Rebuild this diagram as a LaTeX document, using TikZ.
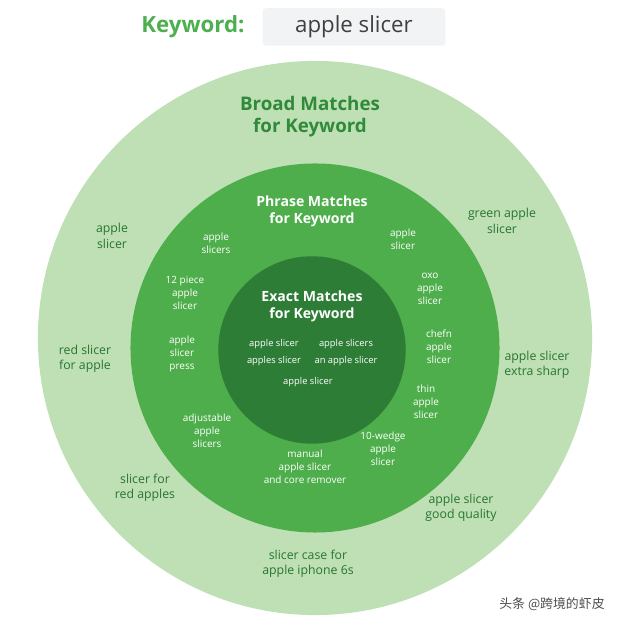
\documentclass[tikz,border=0pt]{standalone}
\usepackage{fontspec}
\setmainfont{Open Sans}
\newfontfamily\cjk{Noto Sans CJK SC}
\usepackage{tikz}
\definecolor{broadgreen}{HTML}{BEE0B4}
\definecolor{phrasegreen}{HTML}{4EAE4B}
\definecolor{exactgreen}{HTML}{2E7D36}
\definecolor{headgreen}{HTML}{2F8A3A}
\definecolor{keygreen}{HTML}{4CAF50}
\definecolor{boxgray}{HTML}{F1F3F4}

\begin{document}
\begin{tikzpicture}[
    x=0.03cm, y=-0.03cm,
    every node/.style={align=center},
    ring/.style={circle, draw=none, inner sep=0pt},
    heading/.style={font=\bfseries\fontsize{16}{19}\selectfont},
    broad/.style={font=\fontsize{10.5}{13}\selectfont, text=headgreen!85!black},
    phrase/.style={font=\fontsize{8.5}{11}\selectfont, text=white},
    exact/.style={font=\fontsize{8}{10}\selectfont, text=white}
]
    \useasboundingbox (0,0) rectangle (631,627);

    % === TITLE ===
    \node[font=\bfseries\fontsize{19}{22}\selectfont, text=keygreen] (keylabel) at (193,27) {Keyword:};
    \node[fill=boxgray, rounded corners=3pt, minimum width=156pt, minimum height=32pt,
          font=\fontsize{19}{22}\selectfont, text=black!75] (keybox) at (354,27) {apple slicer};

    % === CIRCLES ===
    \node[ring, fill=broadgreen, minimum size=473pt] (broadring) at (315,338) {};
    \node[ring, fill=phrasegreen, minimum size=315pt] (phrasering) at (315,348) {};
    \node[ring, fill=exactgreen, minimum size=160pt] (exactring) at (312,350) {};

    % Headings
    \node[heading, text=headgreen] (broadhead) at (310,117) {Broad Matches\\for Keyword};
    \node[heading, text=white, font=\bfseries\fontsize{12}{14.5}\selectfont] (phrasehead) at (312,211) {Phrase Matches\\for Keyword};
    \node[heading, text=white, font=\bfseries\fontsize{12}{14.5}\selectfont] (exacthead) at (312,306) {Exact Matches\\for Keyword};

    % === BROAD MATCHES ===
    \node[broad] (b1) at (112,236) {apple\\slicer};
    \node[broad] (b2) at (85,359) {red slicer\\for apple};
    \node[broad] (b3) at (145,488) {slicer for\\red apples};
    \node[broad] (b4) at (308,564) {slicer case for\\apple iphone 6s};
    \node[broad] (b5) at (502,221) {green apple\\slicer};
    \node[broad] (b6) at (537,365) {apple slicer\\extra sharp};
    \node[broad] (b7) at (461,508) {apple slicer\\good quality};

    % === PHRASE MATCHES ===
    \node[phrase] (p1) at (216,243) {apple\\slicers};
    \node[phrase] (p2) at (185,293) {12 piece\\apple\\slicer};
    \node[phrase] (p3) at (182,354) {apple\\slicer\\press};
    \node[phrase] (p4) at (207,431) {adjustable\\apple\\slicers};
    \node[phrase] (p5) at (305,467) {manual\\apple slicer\\and core remover};
    \node[phrase] (p6) at (383,449) {10-wedge\\apple\\slicer};
    \node[phrase] (p7) at (403,239) {apple\\slicer};
    \node[phrase] (p8) at (430,289) {oxo\\apple\\slicer};
    \node[phrase] (p9) at (439,347) {chefn\\apple\\slicer};
    \node[phrase] (p10) at (426,402) {thin\\apple\\slicer};

    % === EXACT MATCHES ===
    \node[exact] (e1) at (274,344) {apple slicer};
    \node[exact] (e2) at (346,344) {apple slicers};
    \node[exact] (e3) at (274,361) {apples slicer};
    \node[exact] (e4) at (346,361) {an apple slicer};
    \node[exact] (e5) at (308,382) {apple slicer};

    % Watermark
    \node[font=\cjk\fontsize{11}{13}\selectfont, text=black!70] (mark) at (552,604) {头条 @跨境的虾皮};
\end{tikzpicture}
\end{document}
